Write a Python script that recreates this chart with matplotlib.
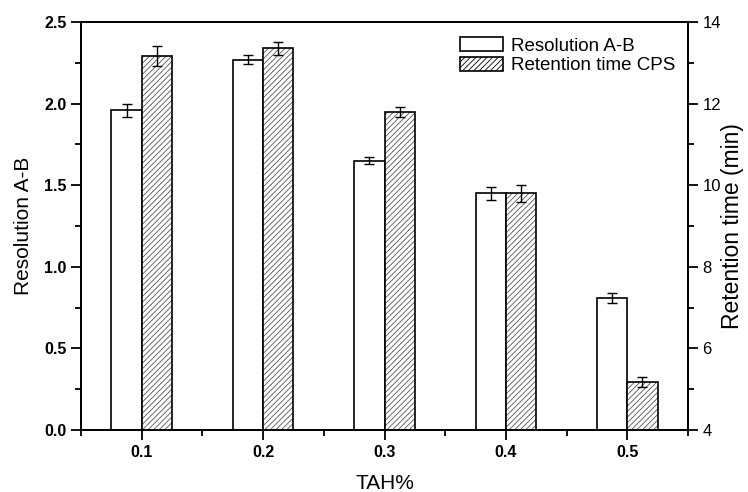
import matplotlib
matplotlib.use("Agg")
import matplotlib.pyplot as plt
from matplotlib.ticker import MultipleLocator, FormatStrFormatter
from matplotlib.patches import Patch
import numpy as np

plt.rcParams['font.family'] = ['Liberation Sans', 'DejaVu Sans']
plt.rcParams['hatch.linewidth'] = 0.6

tah = [0.1, 0.2, 0.3, 0.4, 0.5]
resolution = [1.96, 2.27, 1.65, 1.45, 0.81]
resolution_err = [0.04, 0.03, 0.02, 0.04, 0.03]
retention = [13.16, 13.36, 11.80, 9.80, 5.18]
retention_err = [0.24, 0.16, 0.12, 0.20, 0.12]
xtick_labels = ['0.1', '0.2', '0.3', '0.4', '0.5']

fig = plt.figure(figsize=(7.48, 4.92), dpi=100)
ax = fig.add_axes([0.1083, 0.126, 0.8115, 0.8293])
ax2 = ax.twinx()

w = 0.025
x = np.array(tah)

ax.bar(x - w / 2, resolution, width=w, color='white', edgecolor='black',
       linewidth=1.2, zorder=2)
ax.errorbar(x - w / 2, resolution, yerr=resolution_err, fmt='none',
            ecolor='black', elinewidth=1, capsize=3.5, capthick=1, zorder=3)

ax2.bar(x + w / 2, retention, width=w, color='white',
        edgecolor='#555555', hatch='//////', linewidth=0, zorder=2)
ax2.bar(x + w / 2, retention, width=w, fill=False,
        edgecolor='black', linewidth=1.2, zorder=2.5)
ax2.errorbar(x + w / 2, retention, yerr=retention_err, fmt='none',
             ecolor='black', elinewidth=1, capsize=3.5, capthick=1, zorder=3)

ax.set_xlim(0.05, 0.55)
ax.set_ylim(0, 2.5)
ax2.set_ylim(4, 14)

ax.set_xticks(tah)
ax.set_xticklabels(xtick_labels, fontweight='bold', fontsize=11.5)
ax.xaxis.set_minor_locator(MultipleLocator(0.05))
ax.yaxis.set_major_locator(MultipleLocator(0.5))
ax.yaxis.set_minor_locator(MultipleLocator(0.25))
ax.yaxis.set_major_formatter(FormatStrFormatter('%.1f'))
ax2.yaxis.set_major_locator(MultipleLocator(2))
ax2.yaxis.set_minor_locator(MultipleLocator(1))

for a in (ax, ax2):
    a.tick_params(which='major', direction='out', length=7, width=1.3)
    a.tick_params(which='minor', direction='out', length=4.5, width=1.3)
    for s in a.spines.values():
        s.set_linewidth(1.4)
ax.tick_params(axis='y', which='both', labelsize=11.5)
ax2.tick_params(axis='y', which='both', labelsize=12)
for lab in ax.get_yticklabels():
    lab.set_fontweight('bold')

ax.set_xlabel('TAH%', fontsize=15, va='center')
ax.xaxis.set_label_coords(0.5, -0.132)
ax.set_ylabel('Resolution A-B', fontsize=15, va='center')
ax.yaxis.set_label_coords(-0.094, 0.5)
ax2.set_ylabel('Retention time (min)', fontsize=16.5, va='center')
ax2.yaxis.set_label_coords(1.0725, 0.5)

handles = [Patch(facecolor='white', edgecolor='black', linewidth=1.2),
           Patch(facecolor='white', edgecolor='#555555', hatch='//////', linewidth=1.2)]
leg = ax.legend(handles, ['Resolution A-B', 'Retention time CPS'], loc='upper right',
                bbox_to_anchor=(1.0, 0.995), frameon=False, fontsize=13.5,
                handlelength=2.3, handleheight=0.75, handletextpad=0.4,
                labelspacing=0.12, borderaxespad=0.3)
for h in leg.legend_handles:
    h.set_edgecolor('black')

fig.savefig('out.png', dpi=100)
